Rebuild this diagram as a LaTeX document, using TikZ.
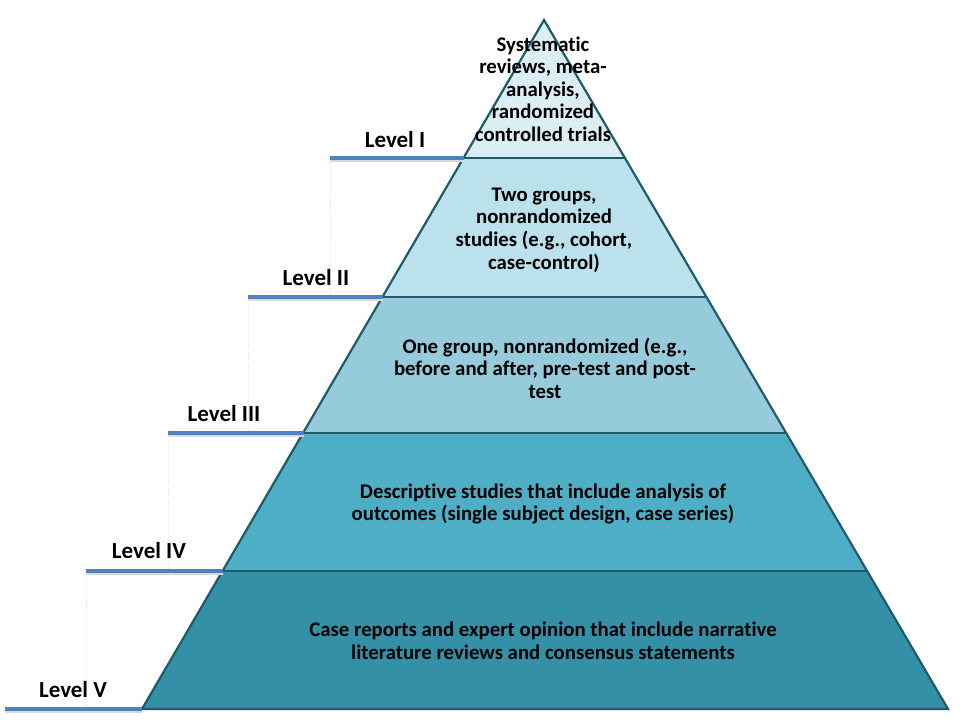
\documentclass[tikz,border=0pt]{standalone}
\usepackage{fontspec}
\setmainfont[Ligatures=NoCommon]{Carlito}
\begin{document}
\begin{tikzpicture}[x=1pt,y=-1pt,
  tier/.style={draw=edgec, line width=2.2pt, line join=miter},
  lvl/.style={font=\bfseries\fontsize{23}{24}\selectfont, anchor=base},
  ttext/.style={font=\bfseries\fontsize{20.8}{22.6}\selectfont, align=center, text=black},
  lvline/.style={draw=lvblue, line width=3.2pt},
  lvshadow/.style={draw=black!15, line width=3pt},
  guide/.style={draw=black!12, dotted, line width=0.6pt}]
\definecolor{edgec}{HTML}{1F5B68}
\definecolor{lvblue}{HTML}{4F81BD}
\definecolor{c1}{HTML}{DCEEF3}
\definecolor{c2}{HTML}{BAE1EC}
\definecolor{c3}{HTML}{95CBDB}
\definecolor{c4}{HTML}{4EAEC5}
\definecolor{c5}{HTML}{3490A6}
\useasboundingbox (0,0) rectangle (960,720);
% key points
\coordinate (apex) at (544,20);
\coordinate (L1) at (463.5,158); \coordinate (R1) at (624.5,158);
\coordinate (L2) at (383,297);   \coordinate (R2) at (705.5,297);
\coordinate (L3) at (303.5,433); \coordinate (R3) at (785,433);
\coordinate (L4) at (223,571);   \coordinate (R4) at (866,571);
\coordinate (L5) at (142,709);   \coordinate (R5) at (948,709);
% tiers
\fill[c1] (apex) -- (R1) -- (L1) -- cycle;
\fill[c2] (L1) -- (R1) -- (R2) -- (L2) -- cycle;
\fill[c3] (L2) -- (R2) -- (R3) -- (L3) -- cycle;
\fill[c4] (L3) -- (R3) -- (R4) -- (L4) -- cycle;
\fill[c5] (L4) -- (R4) -- (R5) -- (L5) -- cycle;
\draw[tier] (L1) -- (R1) (L2) -- (R2) (L3) -- (R3) (L4) -- (R4);
\draw[tier] (L5) -- (apex) -- (R5) -- cycle;
% level lines
\coordinate (s1) at (330,158); \coordinate (s2) at (248,297);
\coordinate (s3) at (168,433); \coordinate (s4) at (86,571);
\coordinate (s5) at (5,709);
\draw[guide] (s1) -- (330,297) (s2) -- (248,433) (s3) -- (168,571) (s4) -- (86,709);
\foreach \a/\b in {s1/L1,s2/L2,s3/L3,s4/L4,s5/L5}{
  \draw[lvshadow] ([yshift=-2.5pt]\a) -- ([yshift=-2.5pt]\b);
  \draw[lvline] (\a) -- (\b);
}
% level labels
\node[lvl] (lab1) at (395,147) {Level I};
\node[lvl] (lab2) at (316,285) {Level II};
\node[lvl] (lab3) at (224,421) {Level III};
\node[lvl] (lab4) at (149,558) {Level IV};
\node[lvl] (lab5) at (73,697) {Level V};
% tier texts
\node[ttext] (t1) at (543,89) {Systematic\\reviews, meta-\\analysis,\\randomized\\controlled trials};
\node[ttext] (t2) at (544,230) {Two groups,\\nonrandomized\\studies (e.g., cohort,\\case-control)};
\node[ttext] (t3) at (545,368) {One group, nonrandomized (e.g.,\\before and after, pre-test and post-\\test};
\node[ttext] (t4) at (543,504) {Descriptive studies that include analysis of\\outcomes (single subject design, case series)};
\node[ttext] (t5) at (543,641) {Case reports and expert opinion that include narrative\\literature reviews and consensus statements};
\end{tikzpicture}
\end{document}
